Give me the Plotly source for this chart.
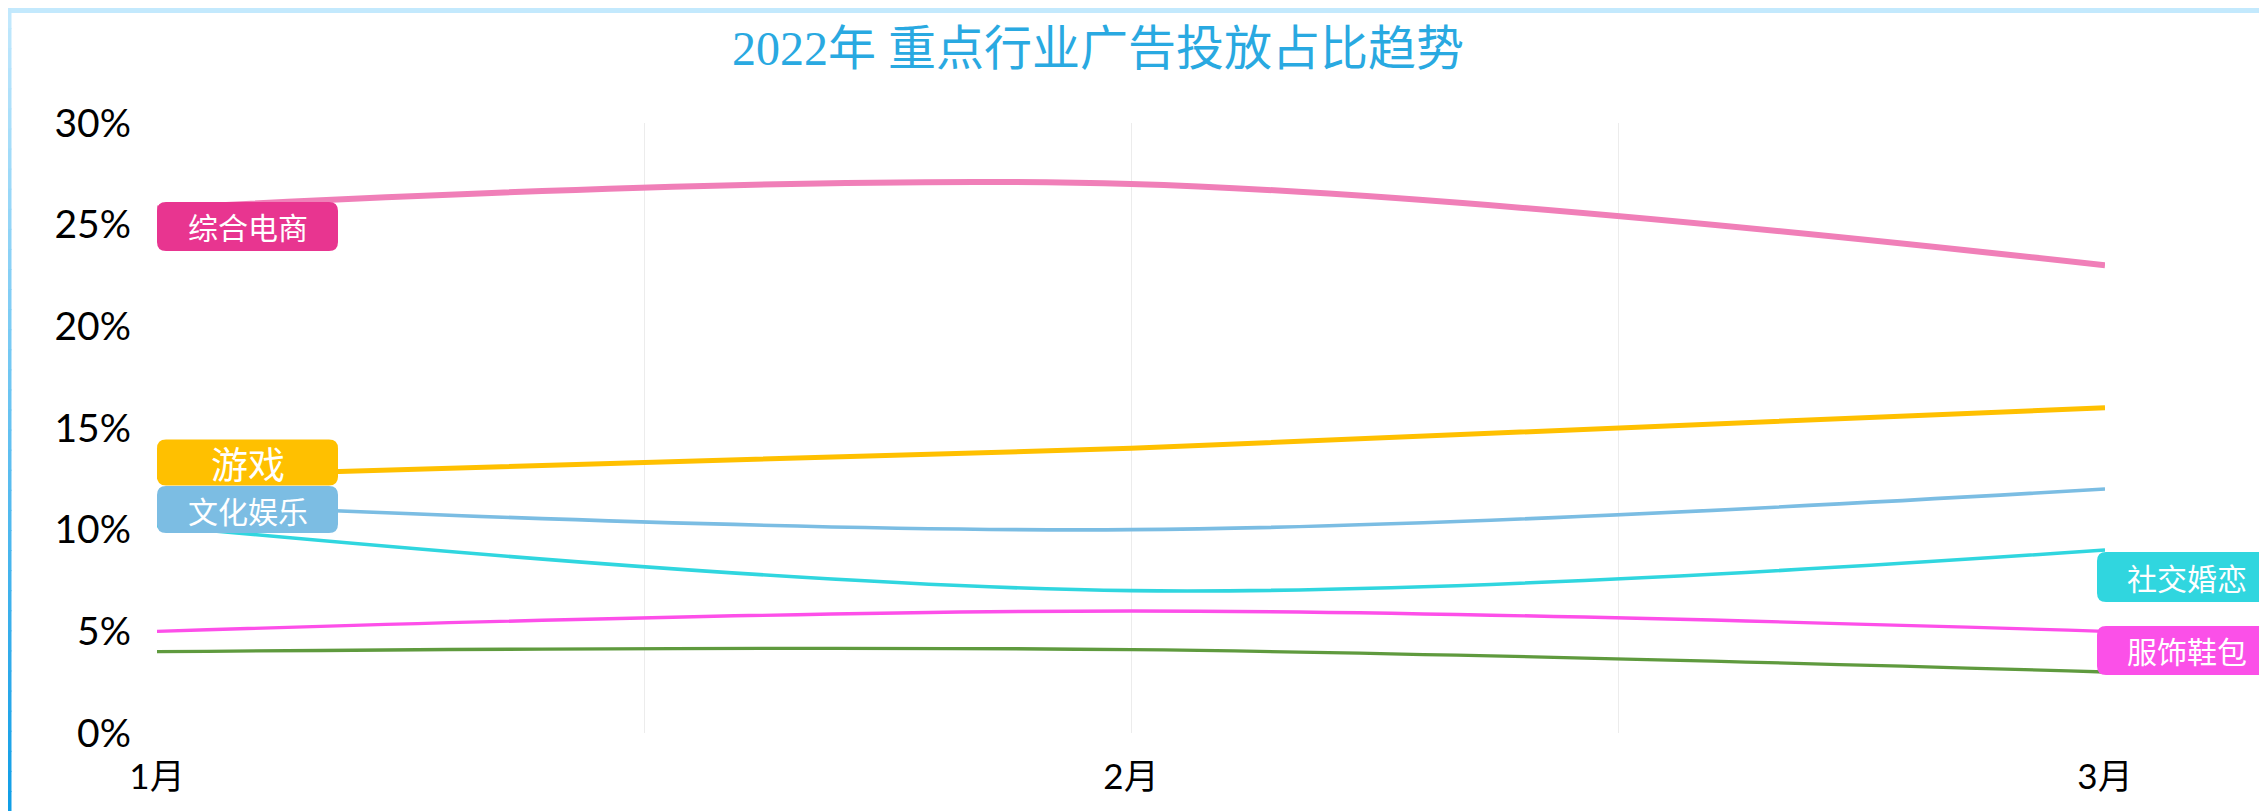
import plotly.graph_objects as go

# ---------------- data ----------------
months = ["1月", "2月", "3月"]
month_pos = [1, 2, 3]
series_names = ["综合电商", "游戏", "文化娱乐", "社交婚恋", "服饰鞋包", "其他"]
dianshang = [25.8, 27.0, 23.0]
youxi = [12.6, 14.0, 16.0]
wenyu = [11.3, 10.0, 12.0]
shejiao = [10.2, 7.0, 9.0]
fushi = [5.0, 6.0, 5.0]
qita = [4.0, 4.1, 3.0]
y_ticks = [0, 5, 10, 15, 20, 25, 30]
y_tick_labels = [f"{v}%" for v in y_ticks]

values = [dianshang, youxi, wenyu, shejiao, fushi, qita]

# ---------------- styles ----------------
line_colors = ["#f07fb8", "#ffc000", "#7bbde3", "#30d6df", "#fd4fe9", "#5f9a3e"]
line_widths = [6, 5, 3.6, 3.6, 3.4, 3.3]
box_colors = ["#e83590", "#ffc000", "#7cbde3", "#30d6df", "#fb50e8"]
# label layout: (side, centre in axis units, height px, font size)
label_layout = [
    ("left", 24.91, 49, 30),
    ("left", 13.30, 46, 37),
    ("left", 10.99, 47, 30),
    ("right", 7.67, 50, 30),
    ("right", 4.06, 49, 30),
]
YMAX = 30

fig = go.Figure()
for name, vals, col, w in zip(series_names, values, line_colors, line_widths):
    fig.add_trace(go.Scatter(
        x=month_pos, y=vals, name=name, mode="lines",
        line=dict(color=col, width=w, shape="spline", smoothing=1.0),
        hovertemplate="%{y}%<extra>" + name + "</extra>",
    ))


def rounded_path(x0, x1, y0, y1, r):
    return (f"M {x0 + r},{y0} L {x1 - r},{y0} Q {x1},{y0} {x1},{y0 + r} "
            f"L {x1},{y1 - r} Q {x1},{y1} {x1 - r},{y1} L {x0 + r},{y1} "
            f"Q {x0},{y1} {x0},{y1 - r} L {x0},{y0 + r} Q {x0},{y0} {x0 + r},{y0} Z")


shapes = []
annotations = []
for name, bc, (side, cy, h, fs) in zip(series_names, box_colors, label_layout):
    if side == "left":
        xa, bx0, bx1, tx = 0, 0, 181, 90.5
    else:
        xa, bx0, bx1, tx = 1, -8, 175, 82
    shapes.append(dict(
        type="path", xref="paper", yref="paper",
        xsizemode="pixel", ysizemode="pixel",
        xanchor=xa, yanchor=cy / YMAX,
        path=rounded_path(bx0, bx1, -h / 2, h / 2, 9),
        fillcolor=bc, line=dict(width=0), layer="above",
    ))
    annotations.append(dict(
        xref="paper", yref="paper", x=xa, y=cy / YMAX, xshift=tx,
        xanchor="center", yanchor="middle", showarrow=False, text=name,
        font=dict(family="Noto Sans CJK SC", size=fs, color="white"),
    ))

# figure size (page has an 8px body margin)
W, H = 2259, 803
L, R, T, B = 149, 162, 115, 78
PW, PH = W - L - R, H - T - B


def px_to_paper_x(X):  # screenshot X -> paper
    return (X - 8 - L) / PW


def px_to_paper_y(Y):  # screenshot Y -> paper
    return (H - B - (Y - 8)) / PH


# frame: top bar and gradient left bar
shapes.append(dict(type="line", xref="paper", yref="paper", layer="below",
                   x0=px_to_paper_x(7), x1=px_to_paper_x(2280),
                   y0=px_to_paper_y(10.5), y1=px_to_paper_y(10.5),
                   line=dict(color="#c3e9fd", width=5)))
c_top = (0xc3, 0xe9, 0xfd)
c_bot = (0x0f, 0x9d, 0xe6)
nseg = 40
for i in range(nseg):
    t = (i + 0.5) / nseg
    col = "rgb(%d,%d,%d)" % tuple(round(a + (b - a) * t) for a, b in zip(c_top, c_bot))
    py0 = 8 + (811 - 8) * i / nseg
    py1 = min(8 + (811 - 8) * (i + 1) / nseg + 1, 811)
    shapes.append(dict(type="line", xref="paper", yref="paper", layer="below",
                       x0=px_to_paper_x(9.5), x1=px_to_paper_x(9.5),
                       y0=px_to_paper_y(py0), y1=px_to_paper_y(py1),
                       line=dict(color=col, width=4)))

fig.update_layout(
    width=W, height=H,
    margin=dict(l=L, r=R, t=T, b=B),
    paper_bgcolor="white", plot_bgcolor="white",
    showlegend=False,
    title=dict(text="2022年 重点行业广告投放占比趋势", x=(1098 - 8) / W, xanchor="center",
               xref="container", yref="container", y=1 - (48 - 8) / H, yanchor="middle",
               font=dict(family="Liberation Serif, Noto Sans CJK SC", size=48, color="#29a9e1")),
    xaxis=dict(range=[1, 3], tickvals=[1, 1.5, 2, 2.5, 3],
               ticktext=[months[0], "", months[1], "", months[2]],
               showgrid=True, gridcolor="#ececec", gridwidth=1.3,
               zeroline=False, showline=False, ticks="",
               ticklabelstandoff=20,
               tickfont=dict(family="Lato, Noto Sans CJK SC", size=35, color="black")),
    yaxis=dict(range=[0, YMAX], tickmode="array", tickvals=y_ticks, ticktext=y_tick_labels,
               showgrid=False, zeroline=False, showline=False, ticks="",
               ticklabelstandoff=25,
               tickfont=dict(family="Lato", size=39, color="black")),
    shapes=shapes, annotations=annotations,
)

fig.write_html("out.html")
